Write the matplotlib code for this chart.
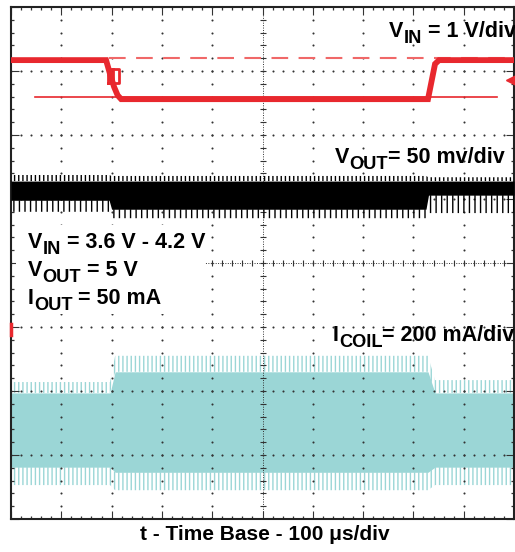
import numpy as np
import matplotlib
matplotlib.use("Agg")
import matplotlib.pyplot as plt
from matplotlib.ticker import MultipleLocator

plt.rcParams['font.family'] = ['Liberation Sans', 'DejaVu Sans']
plt.rcParams['hatch.linewidth'] = 1.0

# all values in scope divisions (x: 0..10, y: -4..4)
# VIN trace (red)
vin_t = [0, 1.89, 1.97, 2.05, 2.12, 2.19, 8.29, 8.43, 8.51, 10]
vin_v = [3.17, 3.17, 2.95, 2.75, 2.62, 2.56, 2.56, 3.11, 3.17, 3.17]
vin_ref_high = 3.20
vin_ref_low = 2.59
vin_ref_low_t = [0.48, 9.66]
vin_marker = 2.86

# VOUT trace (black), envelope
vout_t = [0, 1.95, 2.0, 8.25, 8.3, 10]
vout_fringe_top = [1.375, 1.375, 1.36, 1.36, 1.34, 1.34]
vout_core_top = [1.28, 1.28, 1.28, 1.28, 1.28, 1.28]
vout_core_bot = [0.98, 0.98, 0.84, 0.84, 1.06, 1.06]
vout_fringe_bot = [0.80, 0.80, 0.70, 0.70, 0.78, 0.78]

# ICOIL trace (cyan), envelope
icoil_t = [0, 1.97, 2.07, 8.29, 8.43, 10]
icoil_fringe_top = [-1.86, -1.86, -1.45, -1.45, -1.83, -1.83]
icoil_core_top = [-2.03, -2.03, -1.70, -1.70, -2.03, -2.03]
icoil_core_bot = [-3.19, -3.19, -3.27, -3.27, -3.19, -3.19]
icoil_fringe_bot = [-3.47, -3.47, -3.55, -3.55, -3.47, -3.47]

red = '#e8282e'
cyan = '#9bd6d6'
W, H = 515, 552

fig = plt.figure(figsize=(5.15, 5.52), dpi=100)
ax = fig.add_axes([11 / W, 33 / H, 503 / W, 512 / H])
ax.set_xlim(0, 10)
ax.set_ylim(-4, 4)

# grid of dots
minor_x = np.arange(0, 10.01, 0.2)
minor_y = np.arange(-4, 4.01, 0.2)
dot = dict(ls='none', marker='o', ms=1.5, mfc='#333333', mec='none', zorder=2)
for i in range(1, 10):
    if i == 5:
        continue
    ax.plot(np.full(len(minor_y), i), minor_y, **dot)
for j in range(-3, 4):
    if j == 0:
        continue
    ax.plot(minor_x, np.full(len(minor_x), j), **dot)
# center axes with little ticks
ax.plot([5, 5], [-4, 4], ls=(0, (1, 1.5)), color='#333333', lw=0.7, zorder=2)
ax.plot(np.full(len(minor_y), 5), minor_y, ls='none', marker='_', ms=5, mew=0.8,
        color='#333333', zorder=2)
ax.plot([0, 10], [0, 0], ls=(0, (1, 1.5)), color='#333333', lw=0.7, zorder=2)
ax.plot(minor_x, np.zeros(len(minor_x)), ls='none', marker='|', ms=5, mew=0.8,
        color='#333333', zorder=2)

# ICOIL
ax.fill_between(icoil_t, icoil_core_bot, icoil_core_top, color=cyan, lw=0, zorder=1)
ax.fill_between(icoil_t, icoil_core_top, icoil_fringe_top, facecolor='none',
                edgecolor=cyan, hatch='||||', lw=0, zorder=1)
ax.fill_between(icoil_t, icoil_fringe_bot, icoil_core_bot, facecolor='none',
                edgecolor=cyan, hatch='||||', lw=0, zorder=1)

# VOUT
ax.fill_between(vout_t, vout_core_bot, vout_core_top, color='black', lw=0, zorder=3)
ax.fill_between(vout_t, vout_core_top, vout_fringe_top, facecolor='none',
                edgecolor='black', hatch='||||', lw=0, zorder=3)
ax.fill_between(vout_t, vout_fringe_bot, vout_core_bot, facecolor='none',
                edgecolor='black', hatch='|||', lw=0, zorder=3)

# VIN
ax.plot([1.95, 10], [vin_ref_high, vin_ref_high], color='#f06868', lw=1.5,
        dashes=(8, 5), zorder=3)
ax.plot(vin_ref_low_t, [vin_ref_low, vin_ref_low], color=red, lw=1.2, zorder=3)
ax.plot(vin_t, vin_v, color=red, lw=4.2, solid_joinstyle='miter', zorder=4)
ax.plot([1.92, 2.15, 2.15, 1.92, 1.92], [2.81, 2.81, 3.03, 3.03, 2.81],
        color=red, lw=2, zorder=4)
ax.plot([2.03, 2.03], [2.81, 3.03], color=red, lw=2, zorder=4)
ax.plot([10.0], [vin_marker], marker='<', ms=11, color=red, clip_on=False, zorder=5)
ax.plot([0, 0], [-0.95, -1.12], color=red, lw=2.5, clip_on=False, zorder=5)

# white box behind the conditions text
ax.add_patch(plt.Rectangle((0.1, -0.8), 3.75, 1.4, facecolor='white',
                           edgecolor='none', zorder=2.2))

for s in ax.spines.values():
    s.set_linewidth(1.5)
    s.set_color('#222222')
ax.xaxis.set_major_locator(MultipleLocator(1))
ax.xaxis.set_minor_locator(MultipleLocator(0.2))
ax.yaxis.set_major_locator(MultipleLocator(1))
ax.yaxis.set_minor_locator(MultipleLocator(0.2))
ax.tick_params(which='both', direction='in', top=True, right=True,
               labelbottom=False, labelleft=False, color='#333333')
ax.tick_params(which='major', length=6, width=0.8)
ax.tick_params(which='minor', length=2.5, width=0.9)

renderer = fig.canvas.get_renderer()
fs = 15.5


def sub_label(x, y, main, sub, rest):
    # x, y in pixels from the top-left, y is the baseline
    kw = dict(fontweight='bold', va='baseline', ha='left', zorder=6)
    t1 = fig.text(x / W, 1 - y / H, main, fontsize=fs, **kw)
    x1 = t1.get_window_extent(renderer).x1
    t2 = fig.text(x1 / W, 1 - (y + 6) / H, sub, fontsize=fs * 0.85, **kw)
    x2 = t2.get_window_extent(renderer).x1
    fig.text(x2 / W, 1 - y / H, rest, fontsize=fs, **kw)


sub_label(389, 37, 'V', 'IN', ' = 1 V/div')
sub_label(335, 163, 'V', 'OUT', '= 50 mv/div')
sub_label(28, 248, 'V', 'IN', ' = 3.6 V - 4.2 V')
sub_label(28, 276, 'V', 'OUT', ' = 5 V')
sub_label(28, 304, 'I', 'OUT', ' = 50 mA')
sub_label(333, 341, 'I', 'COIL', '= 200 mA/div')

fig.text(265 / W, 1 - 540 / H, 't - Time Base - 100 \u03bcs/div', fontsize=15,
         fontweight='bold', ha='center', va='baseline')

fig.savefig('out.png', dpi=100)
